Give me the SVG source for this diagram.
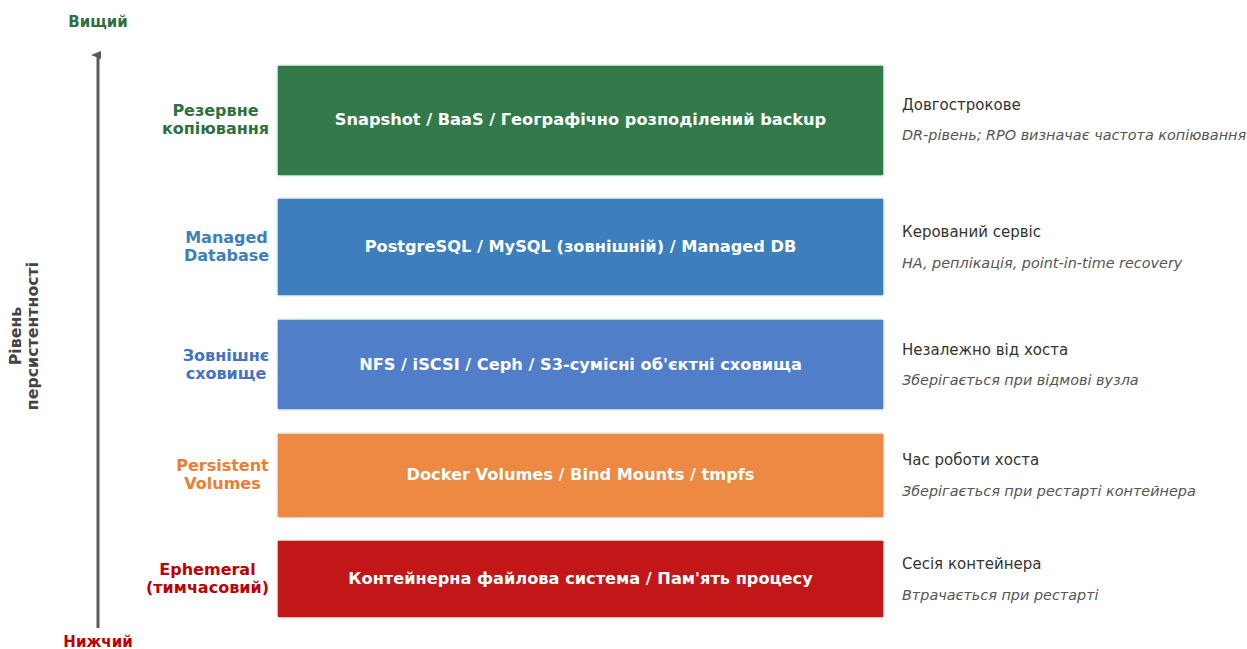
<svg xmlns="http://www.w3.org/2000/svg" width="1247" height="649" viewBox="0 0 1247 649">
<defs>
<style>
text{font-family:"DejaVu Sans","Noto Sans",sans-serif}
.box{stroke:#e8eef0;stroke-width:1.5}
.in{fill:#fff;font-weight:bold;font-size:16.2px;text-anchor:middle}
.lbl{font-weight:bold;font-size:16px;text-anchor:middle}
.main{fill:#333;font-size:15px}
.sub{fill:#555;font-size:14.4px;font-style:italic}
</style>
<marker id="ah" viewBox="0 0 10 10" refX="5" refY="7" markerWidth="10" markerHeight="10" markerUnits="userSpaceOnUse" orient="auto-start-reverse">
<path d="M1,10 L5,0 L9,10 Z" fill="#5a5a5a"/>
</marker>
</defs>
<rect width="1247" height="649" fill="#fff"/>
<g id="connectors">
<line x1="98" y1="628" x2="98" y2="55" stroke="#5a5a5a" stroke-width="3" marker-end="url(#ah)"/>
</g>
<g id="axis-labels">
<text x="98" y="27" text-anchor="middle" font-weight="bold" font-size="15" fill="#2e7040">Вищий</text>
<text x="98" y="647" text-anchor="middle" font-weight="bold" font-size="15" fill="#c00000">Нижчий</text>
<text transform="translate(20.5,336) rotate(-90)" x="0" y="0" text-anchor="middle" font-weight="bold" font-size="15.8" fill="#444">Рівень</text>
<text transform="translate(38,336) rotate(-90)" x="0" y="0" text-anchor="middle" font-weight="bold" font-size="15.8" fill="#444">персистентності</text>
</g>
<g id="tier-backup">
<rect class="box" x="277" y="65" width="607" height="111" rx="2" fill="#337a4b"/>
<text class="in" x="580.5" y="125">Snapshot / BaaS / Географічно розподілений backup</text>
<text class="lbl" fill="#2e7040" x="215.5" y="116">Резервне</text>
<text class="lbl" fill="#2e7040" x="215.5" y="134">копіювання</text>
<text class="main" x="902" y="110">Довгострокове</text>
<text class="sub" x="902" y="140">DR-рівень; RPO визначає частота копіювання</text>
</g>
<g id="tier-manageddb">
<rect class="box" x="277" y="198" width="607" height="98" rx="2" fill="#3d7fbd"/>
<text class="in" x="580.5" y="252">PostgreSQL / MySQL (зовнішній) / Managed DB</text>
<text class="lbl" fill="#3d7fbd" x="226.5" y="243">Managed</text>
<text class="lbl" fill="#3d7fbd" x="226.5" y="261">Database</text>
<text class="main" x="902" y="237">Керований сервіс</text>
<text class="sub" x="902" y="268">HA, реплікація, point-in-time recovery</text>
</g>
<g id="tier-external">
<rect class="box" x="277" y="319" width="607" height="91" rx="2" fill="#507ec9"/>
<text class="in" x="580.5" y="370">NFS / iSCSI / Ceph / S3-сумісні об'єктні сховища</text>
<text class="lbl" fill="#4472c4" x="226" y="361">Зовнішнє</text>
<text class="lbl" fill="#4472c4" x="226" y="379">сховище</text>
<text class="main" x="902" y="355">Незалежно від хоста</text>
<text class="sub" x="902" y="385">Зберігається при відмові вузла</text>
</g>
<g id="tier-persistent">
<rect class="box" x="277" y="433" width="607" height="85" rx="2" fill="#ee8943"/>
<text class="in" x="580.5" y="480">Docker Volumes / Bind Mounts / tmpfs</text>
<text class="lbl" fill="#ed7d31" x="222.5" y="471">Persistent</text>
<text class="lbl" fill="#ed7d31" x="222.5" y="489">Volumes</text>
<text class="main" x="902" y="465">Час роботи хоста</text>
<text class="sub" x="902" y="496">Зберігається при рестарті контейнера</text>
</g>
<g id="tier-ephemeral">
<rect class="box" x="277" y="540" width="607" height="78" rx="2" fill="#c31619"/>
<text class="in" x="580.5" y="584">Контейнерна файлова система / Пам'ять процесу</text>
<text class="lbl" fill="#c00000" x="207.5" y="575">Ephemeral</text>
<text class="lbl" fill="#c00000" x="207.5" y="593">(тимчасовий)</text>
<text class="main" x="902" y="569">Сесія контейнера</text>
<text class="sub" x="902" y="600">Втрачається при рестарті</text>
</g>
</svg>
